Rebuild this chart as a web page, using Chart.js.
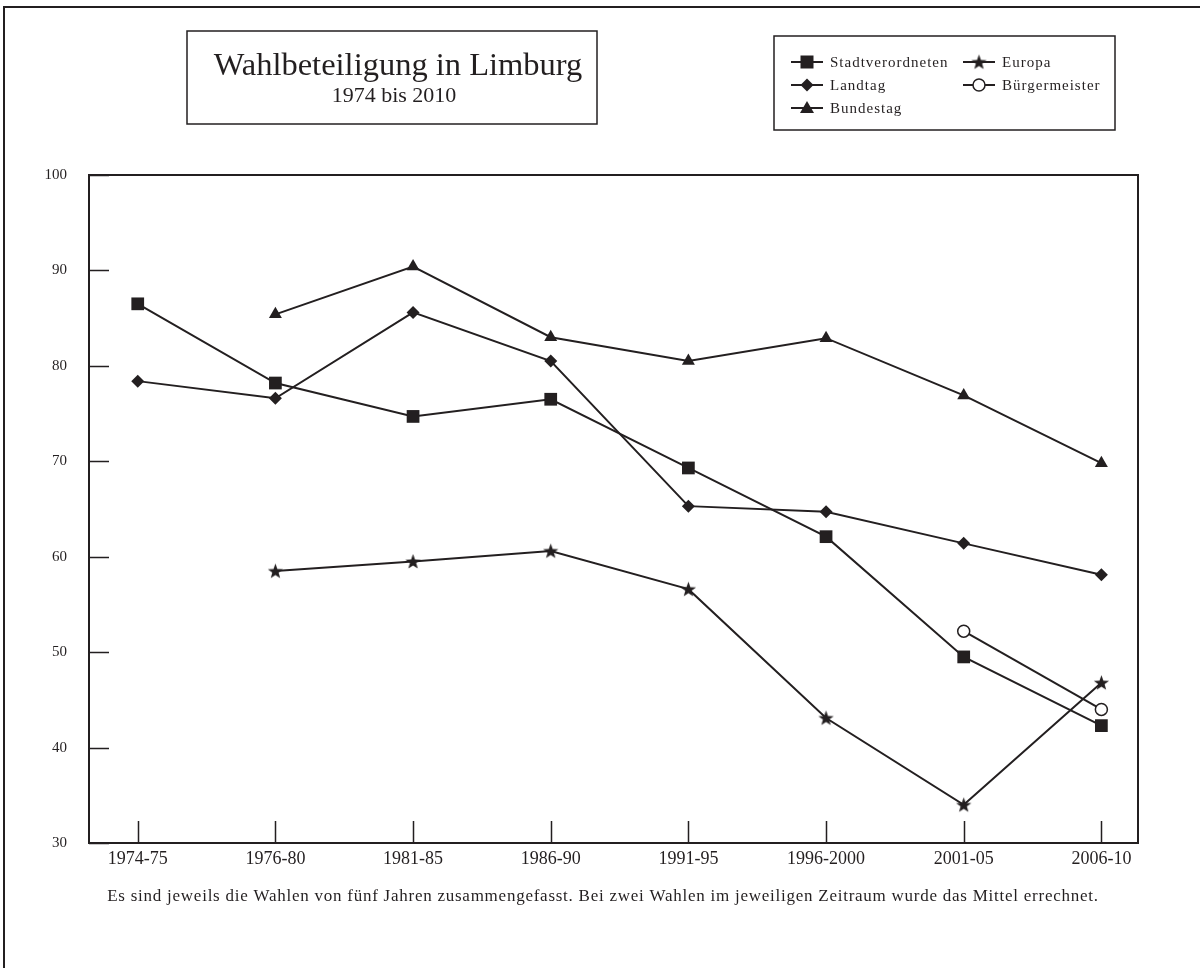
<!DOCTYPE html>
<html>
<head>
<meta charset="utf-8">
<script src="https://cdn.jsdelivr.net/npm/chart.js@4/dist/chart.umd.min.js"></script>
<style>
  html, body { margin: 0; padding: 0; background: #fff; }
  #wrap { width: 1200px; height: 968px; position: relative; }
</style>
</head>
<body>
<div id="wrap"><canvas id="c" width="1200" height="968"></canvas></div>
<script>
// Wahlbeteiligung (turnout, %) per five-year period
const periods = ['1974-75', '1976-80', '1981-85', '1986-90', '1991-95', '1996-2000', '2001-05', '2006-10'];
const stadtverordneten = [86.5, 78.2, 74.7, 76.5, 69.3, 62.1, 49.5, 42.3];
const landtag          = [78.4, 76.6, 85.6, 80.5, 65.3, 64.7, 61.4, 58.1];
const bundestag        = [null, 85.4, 90.4, 83.0, 80.5, 82.9, 76.9, 69.8];
const europa           = [null, 58.5, 59.5, 60.6, 56.6, 43.1, 34.0, 46.8];
const buergermeister   = [null, null, null, null, null, null, 52.2, 44.0];
const yTicks = [30, 40, 50, 60, 70, 80, 90, 100];

const titleText = 'Wahlbeteiligung in Limburg';
const subtitleText = '1974 bis 2010';
const noteText = 'Es sind jeweils die Wahlen von fünf Jahren zusammengefasst. Bei zwei Wahlen im jeweiligen Zeitraum wurde das Mittel errechnet.';

const INK = '#231f20';
const SERIF = '"Liberation Serif", "Times New Roman", serif';

// filled five-pointed star used as a point style
function makeStar(size, outer, inner) {
  const c = document.createElement('canvas');
  c.width = size; c.height = size;
  const g = c.getContext('2d');
  g.fillStyle = INK;
  g.beginPath();
  for (let i = 0; i < 10; i++) {
    const r = i % 2 ? inner : outer;
    const a = -Math.PI / 2 + i * Math.PI / 5;
    const px = size / 2 + r * Math.cos(a);
    const py = size / 2 + 0.6 + r * Math.sin(a);
    if (i === 0) g.moveTo(px, py); else g.lineTo(px, py);
  }
  g.closePath();
  g.fill();
  return c;
}
const starImg = makeStar(17, 8, 3.3);

const toPoints = arr => arr.map((v, i) => ({ x: i, y: v }));

function series(label, values, style, radius, fill) {
  return {
    label,
    data: toPoints(values),
    borderColor: INK,
    borderWidth: 2,
    pointStyle: style,
    pointRadius: radius,
    pointHoverRadius: radius,
    pointBackgroundColor: fill,
    pointBorderColor: INK,
    pointBorderWidth: style === 'circle' ? 1.5 : 0,
    spanGaps: false,
    fill: false,
    tension: 0
  };
}

function legendMarker(ctx, style, x, y) {
  ctx.save();
  ctx.fillStyle = INK;
  ctx.strokeStyle = INK;
  ctx.lineWidth = 2;
  ctx.beginPath();
  ctx.moveTo(x - 16, y); ctx.lineTo(x + 16, y); ctx.stroke();
  ctx.beginPath();
  if (style === 'rect') {
    ctx.rect(x - 6.5, y - 6.5, 13, 13); ctx.fill();
  } else if (style === 'rectRot') {
    ctx.moveTo(x - 6.5, y); ctx.lineTo(x, y - 6.5); ctx.lineTo(x + 6.5, y); ctx.lineTo(x, y + 6.5);
    ctx.closePath(); ctx.fill();
  } else if (style === 'triangle') {
    ctx.moveTo(x, y - 7); ctx.lineTo(x + 7, y + 5); ctx.lineTo(x - 7, y + 5);
    ctx.closePath(); ctx.fill();
  } else if (style === 'star') {
    ctx.drawImage(starImg, x - starImg.width / 2, y - starImg.height / 2);
  } else if (style === 'circle') {
    ctx.arc(x, y, 6, 0, Math.PI * 2);
    ctx.fillStyle = '#fff'; ctx.fill();
    ctx.lineWidth = 1.5; ctx.stroke();
  }
  ctx.restore();
}

const legendItems = [
  { text: 'Stadtverordneten', style: 'rect',     x: 807, y: 62 },
  { text: 'Landtag',          style: 'rectRot',  x: 807, y: 85 },
  { text: 'Bundestag',        style: 'triangle', x: 807, y: 108 },
  { text: 'Europa',           style: 'star',     x: 979, y: 62 },
  { text: 'Bürgermeister',    style: 'circle',   x: 979, y: 85 }
];

const decor = {
  id: 'decor',
  beforeDraw(chart) {
    const ctx = chart.ctx;
    ctx.save();
    ctx.fillStyle = '#fff';
    ctx.fillRect(0, 0, chart.width, chart.height);
    // outer frame
    ctx.strokeStyle = INK;
    ctx.lineWidth = 2;
    ctx.beginPath();
    ctx.moveTo(4, 970); ctx.lineTo(4, 7); ctx.lineTo(1202, 7);
    ctx.stroke();
    ctx.restore();
  },
  afterDraw(chart) {
    const ctx = chart.ctx;
    const area = chart.chartArea;
    const xs = chart.scales.x, ys = chart.scales.y;
    ctx.save();
    ctx.strokeStyle = INK;
    ctx.fillStyle = INK;

    // plot frame
    ctx.lineWidth = 2;
    ctx.strokeRect(area.left, area.top, area.right - area.left, area.bottom - area.top);

    // inward tick marks
    ctx.lineWidth = 1.5;
    ctx.beginPath();
    yTicks.forEach(v => {
      const py = Math.round(ys.getPixelForValue(v)) + 0.5;
      ctx.moveTo(area.left, py); ctx.lineTo(area.left + 20, py);
    });
    periods.forEach((p, i) => {
      const px = Math.round(xs.getPixelForValue(i)) + 0.5;
      ctx.moveTo(px, area.bottom); ctx.lineTo(px, area.bottom - 22);
    });
    ctx.stroke();

    // title box
    ctx.lineWidth = 1.5;
    ctx.strokeRect(187, 31, 410, 93);
    ctx.textAlign = 'center';
    ctx.textBaseline = 'alphabetic';
    ctx.font = '32.5px ' + SERIF;
    ctx.fillText(titleText, 398, 75);
    ctx.font = '22px ' + SERIF;
    ctx.fillText(subtitleText, 394, 102);

    // legend box
    ctx.strokeRect(774, 36, 341, 94);
    ctx.textAlign = 'left';
    ctx.textBaseline = 'middle';
    ctx.font = '15px ' + SERIF;
    try { ctx.letterSpacing = '1px'; } catch (e) {}
    legendItems.forEach(it => {
      legendMarker(ctx, it.style, it.x, it.y);
      ctx.fillText(it.text, it.x + 23, it.y + 1);
    });

    // footnote
    ctx.textAlign = 'center';
    ctx.textBaseline = 'middle';
    ctx.font = '17px ' + SERIF;
    try { ctx.letterSpacing = '0.75px'; } catch (e) {}
    ctx.fillText(noteText, 603, 897);
    try { ctx.letterSpacing = '0px'; } catch (e) {}
    ctx.restore();
  }
};

new Chart(document.getElementById('c'), {
  type: 'line',
  data: {
    datasets: [
      series('Stadtverordneten', stadtverordneten, 'rect', 9, INK),
      series('Landtag', landtag, 'rectRot', 6.5, INK),
      series('Bundestag', bundestag, 'triangle', 7.5, INK),
      series('Europa', europa, starImg, 7, INK),
      series('Bürgermeister', buergermeister, 'circle', 6, '#fff')
    ]
  },
  options: {
    responsive: false,
    animation: false,
    devicePixelRatio: 1,
    layout: { padding: { top: 175, right: 62, left: 0, bottom: 0 } },
    plugins: { legend: { display: false }, title: { display: false }, tooltip: { enabled: false } },
    events: [],
    scales: {
      x: {
        type: 'linear',
        min: -0.354,
        max: 7.266,
        afterBuildTicks: s => { s.ticks = periods.map((p, i) => ({ value: i })); },
        afterFit: s => { s.height = 125; },
        ticks: {
          callback: v => periods[v],
          autoSkip: false,
          maxRotation: 0,
          padding: 5,
          color: INK,
          font: { family: SERIF, size: 18 }
        },
        grid: { display: false, drawTicks: false },
        border: { display: false }
      },
      y: {
        type: 'linear',
        min: 30,
        max: 100,
        afterBuildTicks: s => { s.ticks = yTicks.map(v => ({ value: v })); },
        afterFit: s => { s.width = 89; },
        ticks: {
          padding: 22,
          color: INK,
          font: { family: SERIF, size: 15 }
        },
        grid: { display: false, drawTicks: false },
        border: { display: false }
      }
    }
  },
  plugins: [decor]
});
</script>
</body>
</html>
